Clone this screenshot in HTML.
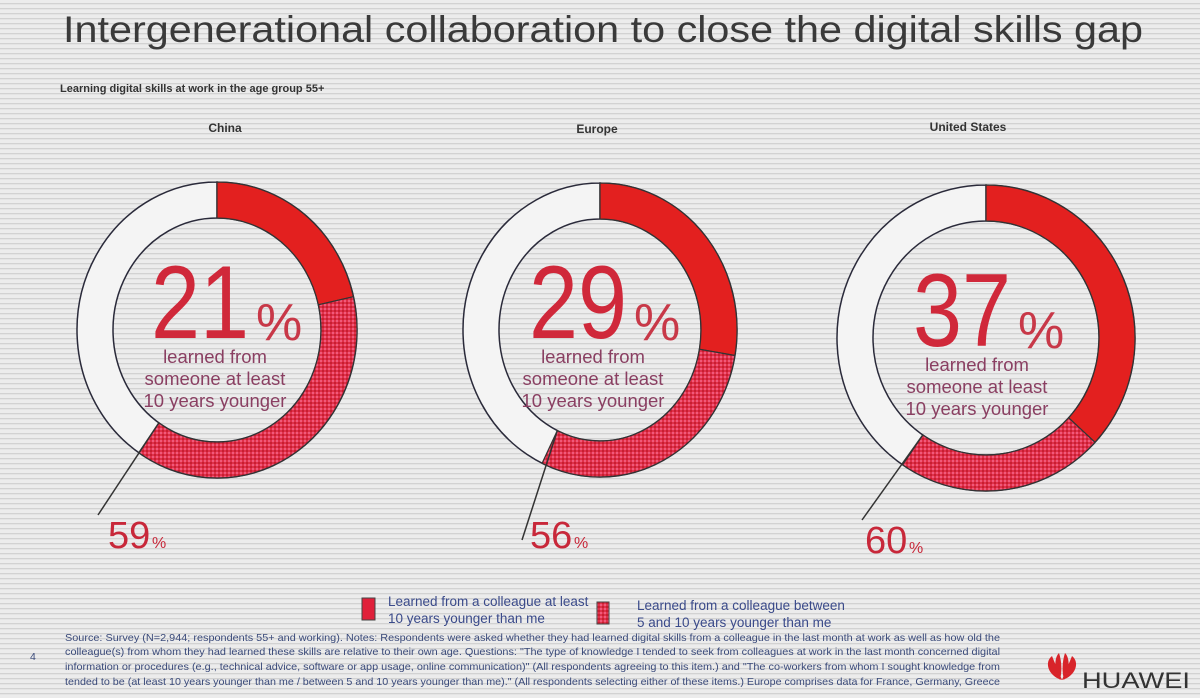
<!DOCTYPE html><html><head><meta charset="utf-8"><style>
html,body{margin:0;padding:0;width:1200px;height:698px;overflow:hidden;background:#ececec}
svg{display:block;font-family:"Liberation Sans",sans-serif}
</style></head><body>
<svg id="s" width="1200" height="698" viewBox="0 0 1200 698" xmlns="http://www.w3.org/2000/svg">
<defs>
<pattern id="stripes" width="6" height="5" patternUnits="userSpaceOnUse"><rect width="6" height="5" fill="#ececec"/><rect y="3" width="6" height="1.3" fill="#d2d2d2"/></pattern>
<pattern id="hatch" width="4" height="4" patternUnits="userSpaceOnUse"><rect width="4" height="4" fill="#e0304a"/><rect width="2" height="2" fill="#f05a7a"/><rect x="2" y="2" width="2" height="2" fill="#c81e30"/></pattern>
</defs>
<rect width="1200" height="698" fill="url(#stripes)"/>
<text x="63" y="42" font-size="37" fill="#3a3a3a" textLength="1080" lengthAdjust="spacingAndGlyphs">Intergenerational collaboration to close the digital skills gap</text>
<text x="60" y="92" font-size="11" font-weight="bold" fill="#333">Learning digital skills at work in the age group 55+</text>
<text x="225" y="132" font-size="12" font-weight="bold" fill="#333" text-anchor="middle">China</text>
<text x="597" y="133" font-size="12" font-weight="bold" fill="#333" text-anchor="middle">Europe</text>
<text x="968" y="131" font-size="12" font-weight="bold" fill="#333" text-anchor="middle">United States</text>
<g id="donuts"></g>
<rect x="362" y="598" width="13" height="22" fill="#e0203a" stroke="#444" stroke-width="1"/>
<text x="388" y="606" font-size="13.5" fill="#3a4a8a">Learned from a colleague at least</text>
<text x="388" y="623" font-size="13.5" fill="#3a4a8a">10 years younger than me</text>
<rect x="597" y="602" width="12" height="22" fill="url(#hatch)" stroke="#444" stroke-width="1"/>
<text x="637" y="610" font-size="13.5" fill="#3a4a8a">Learned from a colleague between</text>
<text x="637" y="627" font-size="13.5" fill="#3a4a8a">5 and 10 years younger than me</text>
<g font-size="10.5" fill="#3a4a7a">
<text x="65" y="641" textLength="935" lengthAdjust="spacingAndGlyphs">Source: Survey (N=2,944; respondents 55+ and working). Notes: Respondents were asked whether they had learned digital skills from a colleague in the last month at work as well as how old the</text>
<text x="65" y="655" textLength="935" lengthAdjust="spacingAndGlyphs">colleague(s) from whom they had learned these skills are relative to their own age. Questions: "The type of knowledge I tended to seek from colleagues at work in the last month concerned digital</text>
<text x="65" y="670" textLength="935" lengthAdjust="spacingAndGlyphs">information or procedures (e.g., technical advice, software or app usage, online communication)" (All respondents agreeing to this item.) and "The co-workers from whom I sought knowledge from</text>
<text x="65" y="685" textLength="935" lengthAdjust="spacingAndGlyphs">tended to be (at least 10 years younger than me / between 5 and 10 years younger than me)." (All respondents selecting either of these items.) Europe comprises data for France, Germany, Greece</text>
<text x="30" y="660">4</text>
</g>
<g transform="translate(1062,680)">
<path d="M0,0 C-14,-4 -18,-18 -10,-24 C-6,-14 -3,-8 0,0Z M0,0 C14,-4 18,-18 10,-24 C6,-14 3,-8 0,0Z M-2,0 C-8,-10 -8,-22 -3,-27 C0,-18 0,-8 -2,0Z M2,0 C8,-10 8,-22 3,-27 C0,-18 0,-8 2,0Z" fill="#d8242a"/>
</g>
<text x="1082" y="688" font-size="22" fill="#333" textLength="108" lengthAdjust="spacingAndGlyphs">HUAWEI</text>
</svg>
<script>
var NS="http://www.w3.org/2000/svg",g=document.getElementById("donuts");
function el(t,a,txt){var e=document.createElementNS(NS,t);for(var k in a)e.setAttribute(k,a[k]);if(txt)e.textContent=txt;g.appendChild(e);return e;}
function pt(cx,cy,rx,ry,a){var r=a*Math.PI/180;return [cx+rx*Math.sin(r),cy-ry*Math.cos(r)];}
function seg(cx,cy,rx,ry,t,a0,a1){var p1=pt(cx,cy,rx,ry,a0),p2=pt(cx,cy,rx,ry,a1),q2=pt(cx,cy,rx-t,ry-t,a1),q1=pt(cx,cy,rx-t,ry-t,a0);var l=(a1-a0)>180?1:0;
return "M"+p1+" A"+rx+","+ry+" 0 "+l+" 1 "+p2+" L"+q2+" A"+(rx-t)+","+(ry-t)+" 0 "+l+" 0 "+q1+"Z";}
var D=[
 {cx:217,cy:330,rx:140,ry:148,a:77,b:214,big:"21",lx:98,ly:515,pct:"59",px:108,py:548,tx:200},
 {cx:600,cy:330,rx:137,ry:147,a:100,b:205,big:"29",lx:522,ly:540,pct:"56",px:530,py:548,tx:578},
 {cx:986,cy:338,rx:149,ry:153,a:133,b:214,big:"37",lx:862,ly:520,pct:"60",px:865,py:553,tx:962}];
D.forEach(function(d){
 el("path",{d:seg(d.cx,d.cy,d.rx,d.ry,36,0.01,359.99),fill:"#f4f4f4",stroke:"#2a2a3a","stroke-width":1.5});
 el("path",{d:seg(d.cx,d.cy,d.rx,d.ry,36,0,d.a),fill:"#e3201f",stroke:"#333","stroke-width":1.2});
 el("path",{d:seg(d.cx,d.cy,d.rx,d.ry,36,d.a,d.b),fill:"url(#hatch)",stroke:"#333","stroke-width":1.2});
 var e=pt(d.cx,d.cy,d.rx-36,d.ry-36,d.b);
 el("line",{x1:e[0],y1:e[1],x2:d.lx,y2:d.ly,stroke:"#333","stroke-width":1.5});
 el("text",{x:d.tx,y:d.cy+8,"font-size":104,fill:"#d0283a","text-anchor":"middle","textLength":98,"lengthAdjust":"spacingAndGlyphs"},d.big);
 el("text",{x:d.tx+56,y:d.cy+10,"font-size":52,fill:"#c83848"},"%");
 var c="#8a3f62";
 el("text",{x:d.tx+15,y:d.cy+33,"font-size":18.5,fill:c,"text-anchor":"middle"},"learned from");
 el("text",{x:d.tx+15,y:d.cy+55,"font-size":18.5,fill:c,"text-anchor":"middle"},"someone at least");
 el("text",{x:d.tx+15,y:d.cy+77,"font-size":18.5,fill:c,"text-anchor":"middle"},"10 years younger");
 el("text",{x:d.px,y:d.py,"font-size":38,fill:"#c8283a"},d.pct);
 el("text",{x:d.px+44,y:d.py,"font-size":16,fill:"#c8283a"},"%");
});
</script>
</body></html>
